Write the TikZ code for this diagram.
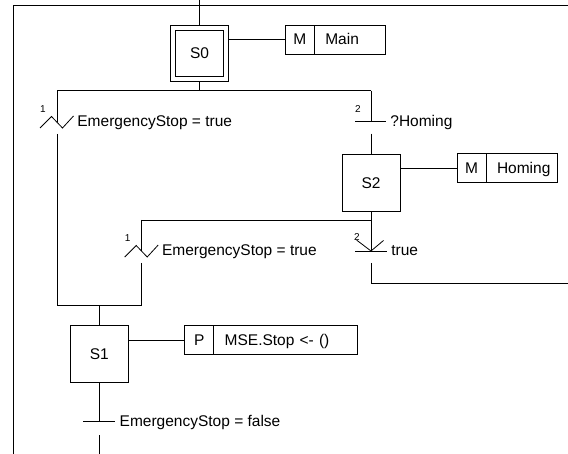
\documentclass[tikz,border=0pt]{standalone}
\usepackage{fontspec}
\setmainfont{Liberation Sans}
\usetikzlibrary{positioning}

\begin{document}
\begin{tikzpicture}[
  x=1pt, y=-1pt, line width=0.8pt,
  font=\fontsize{15.5}{18}\selectfont,
  stepbox/.style={draw, minimum width=58pt, minimum height=57pt, inner sep=0pt,
  text height=11pt, text depth=0pt},
  initbox/.style={draw, minimum width=47.6pt, minimum height=46pt, inner sep=0pt,
  text height=11pt, text depth=0pt},
  kind/.style={draw, minimum width=29pt, minimum height=29pt, inner sep=0pt,
  outer sep=0pt, text height=11pt, text depth=0pt},
  act/.style={draw, minimum height=29pt, inner xsep=11pt, inner ysep=0pt, outer sep=0pt,
  text width=#1, align=left, text height=11pt, text depth=0pt},
  cond/.style={anchor=base west, inner sep=0pt},
  prio/.style={font=\fontsize{10}{12}\selectfont, inner sep=0pt}]
\useasboundingbox (0,0) rectangle (568,454);

% steps
\node[draw, minimum width=58.4pt, minimum height=56.7pt] (s0frame) at (199.5,53.3) {};
\node[initbox] (s0) at (s0frame) {S0};
\node[stepbox] (s2) at (371,182.7) {S2};
\node[stepbox] (s1) at (99.3,354.2) {S1};

% actions
\node[kind] (kmain) at (299.8,39.5) {M};
\node[act=49.5pt, right=0pt of kmain] (main) {Main};
\node[kind] (khoming) at (471.5,168.2) {M};
\node[act=49.5pt, right=0pt of khoming] (homing) {Homing};
\node[kind] (kstop) at (199.2,340) {P};
\node[act=122pt, right=0pt of kstop] (stop) {MSE.Stop <- ()};
\draw (s0frame.east |- kmain) -- (kmain);
\draw (s2.east |- khoming) -- (khoming);
\draw (s1.east |- kstop) -- (kstop);

% junctions and transitions
\coordinate (entry) at (199.5,0);
\coordinate (back) at (13,454);
\coordinate (backtop) at (568,5);
\coordinate (d0) at (199.5,90.7);
\coordinate (d0l) at (57,90.7);
\coordinate (d0r) at (371,90.7);
\coordinate (t1) at (57,122);
\coordinate (t2) at (371,121.7);
\coordinate (d2) at (371,220);
\coordinate (d2l) at (141.7,220);
\coordinate (t3) at (141.7,251);
\coordinate (t4) at (371,251);
\coordinate (loop) at (568,283);
\coordinate (c1l) at (57,305.7);
\coordinate (c1r) at (141.7,305.7);
\coordinate (c1) at (99.3,305.7);
\coordinate (t5) at (99.3,421);
\coordinate (exit) at (99.3,454);

\draw (back) |- (backtop);
\draw (entry) -- (s0frame);
\draw (s0frame) -- (d0);
\draw (d0l) -- (d0r);
\draw (d0l) -- (t1);
\draw ([yshift=-12pt]t1) -- (c1l);
\draw (d0r) -- (t2);
\draw ([yshift=-12pt]t2) -- (s2);
\draw (s2) -- (d2);
\draw (d2l) -- (d2);
\draw (d2l) -- (t3);
\draw ([yshift=-12pt]t3) -- (c1r);
\draw (d2) -- (t4);
\draw ([yshift=-12pt]t4) |- (loop);
\draw (c1l) -- (c1r);
\draw (c1) -- (s1);
\draw (s1) -- (t5);
\draw ([yshift=-14pt]t5) -- (exit);

% transition marks
\draw (t1) ++(-17,6) -- ++(11.5,-11.5) -- ++(11,11.5) -- ++(11,-12);
\draw (t3) ++(-17,6) -- ++(11.5,-11.5) -- ++(11,11.5) -- ++(11,-12);
\draw ([xshift=-16pt]t2) -- ([xshift=15pt]t2);
\draw ([xshift=-16pt]t4) -- ([xshift=16pt]t4);
\draw (t4) ++(-14.5,-11) -- (t4) -- ++(12.5,-10.5);
\draw ([xshift=-16pt]t5) -- ([xshift=16pt]t5);

% transition labels
\node[prio] (p1) at ([xshift=-14pt,yshift=13pt]t1) {1};
\node[prio] (p2) at ([xshift=-13pt,yshift=13pt]t2) {2};
\node[prio] (p3) at ([xshift=-14pt,yshift=13pt]t3) {1};
\node[prio] (p4) at ([xshift=-14pt,yshift=14pt]t4) {2};
\node[cond] (g1) at ([xshift=20pt,yshift=-5pt]t1) {EmergencyStop = true};
\node[cond] (g2) at ([xshift=19pt,yshift=-5pt]t2) {?Homing};
\node[cond] (g3) at ([xshift=20pt,yshift=-5pt]t3) {EmergencyStop = true};
\node[cond] (g4) at ([xshift=20pt,yshift=-5pt]t4) {true};
\node[cond] (g5) at ([xshift=20pt,yshift=-5pt]t5) {EmergencyStop = false};
\end{tikzpicture}
\end{document}
